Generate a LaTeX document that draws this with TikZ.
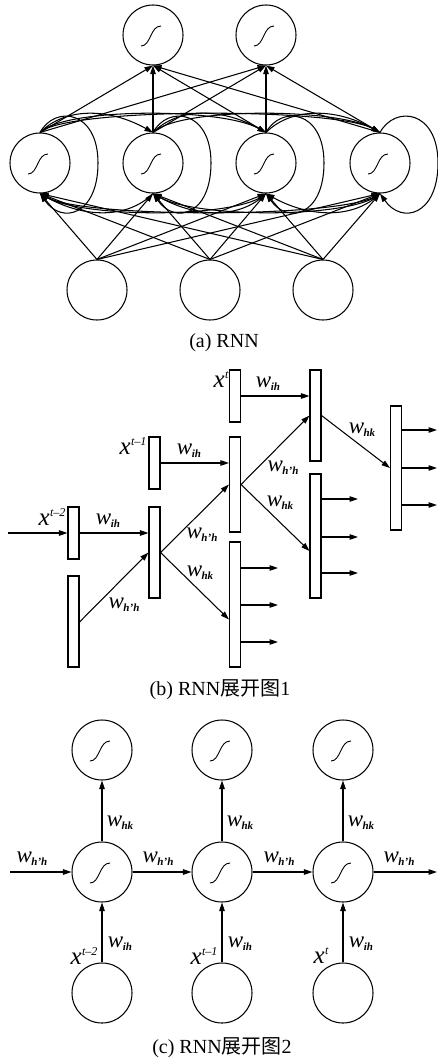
\documentclass[tikz,border=0pt]{standalone}
\usepackage{fontspec}
\setmainfont{Liberation Serif}
\newfontfamily\cjk{Noto Sans CJK SC}
\usetikzlibrary{arrows.meta,calc}
\newcommand{\wlab}[1]{{\fontsize{23}{24}\selectfont\itshape w}\kern-0.5pt\raisebox{-3pt}{\fontsize{11}{11}\selectfont\bfseries\itshape #1}}
\newcommand{\xlab}[1]{{\fontsize{25}{25}\selectfont\itshape x}\kern0.5pt\raisebox{9pt}{\fontsize{12}{12}\selectfont\itshape #1}}
\newcommand{\capfont}{\fontsize{20}{22}\selectfont}
\begin{document}
\begin{tikzpicture}[x=1pt,y=-1pt,
  line width=1.05pt,
  circ/.style={draw, circle, minimum size=60pt, inner sep=0pt},
  bar/.style={draw, rectangle, minimum width=11pt, inner sep=0pt},
  arr/.style={-{Triangle[length=8.5pt,width=5.5pt]}},
  lab/.style={inner sep=0pt},
  sig/.pic={\draw[line width=0.9pt] (-12,11) .. controls (-2,11) and (-3,-9) .. (8,-9);}
]
\useasboundingbox (0,0) rectangle (437,1062);
% ================= (a) =================
\node[circ] (o1) at (153,35) {};
\node[circ] (o2) at (266,35) {};
\node[circ] (h1) at (40,163) {};
\node[circ] (h2) at (153,163) {};
\node[circ] (h3) at (266,163) {};
\node[circ] (h4) at (380,163) {};
\node[circ] (i1) at (97,290) {};
\node[circ] (i2) at (210,290) {};
\node[circ] (i3) at (323,290) {};
\foreach \n in {o1,o2,h1,h2,h3,h4} \pic at (\n) {sig};
% inputs to hidden
\foreach \i in {i1,i2,i3}
  \foreach \h in {h1,h2,h3,h4}
    \draw[arr] (\i.north) -- (\h.south);
% hidden to outputs
\foreach \h in {h1,h2,h3,h4}
  \foreach \o in {o1,o2}
    \draw[arr] (\h.north) -- (\o.south);
% self loops
\foreach \h in {h1,h2,h3,h4}
  \draw[arr] (\h.north) .. controls ($(\h)+(15,-58)$) and ($(\h)+(58,-53)$) .. ($(\h)+(58,0)$)
     .. controls ($(\h)+(58,52)$) and ($(\h)+(22,62)$) .. (\h.south);
% forward recurrent arcs (top)
\foreach \a/\b in {h1/h2,h1/h3,h1/h4,h2/h3,h2/h4,h3/h4}
  \draw[arr] (\a.north) .. controls +(25,-25) and +(-45,-25) .. (\b.north);
% backward recurrent arcs (bottom)
\foreach \a/\b in {h2/h1,h3/h1,h4/h1,h3/h2,h4/h2,h4/h3}
  \draw[arr] (\a.south) .. controls +(-25,25) and +(45,25) .. (\b.south);
\node[lab] (capa) at (224,343) {\capfont (a) RNN};
% ================= (b) =================
\node[bar, minimum height=52pt] (xa) at (73.5,533) {};
\node[bar, minimum height=91pt] (hz) at (73.5,621.5) {};
\node[bar, minimum height=52pt] (xb) at (154.5,463) {};
\node[bar, minimum height=91pt] (ha) at (154.5,552.5) {};
\node[bar, minimum height=52pt] (xc) at (235,396) {};
\node[bar, minimum height=95pt] (hb) at (235,484.5) {};
\node[bar, minimum height=125pt] (ya) at (235,604.5) {};
\node[bar, minimum height=91pt] (hc) at (315.5,415.5) {};
\node[bar, minimum height=124pt] (yb) at (315.5,536) {};
\node[bar, minimum height=124pt] (yc) at (396,468) {};
\coordinate (inb) at (8,533);
\draw[arr] (inb) -- (xa.west);
\draw[arr] (xa.east) -- (xa.east -| ha.west);
\draw[arr] ($(hz.east)+(0,0.5)$) -- (ha.west);
\draw[arr] (xb.east) -- (xb.east -| hb.west);
\draw[arr] (ha.east) -- (hb.west);
\draw[arr] (ha.east) -- ($(ya.west)+(0,15)$);
\draw[arr] (xc.east) -- (xc.east -| hc.west);
\draw[arr] (hb.east) -- (hc.west);
\draw[arr] (hb.east) -- ($(yb.west)+(0,15)$);
\draw[arr] (hc.east) -- (yc.west);
% outputs
\foreach \y [count=\k] in {568,605,642} {
  \coordinate (ea\k) at (278,\y);
  \draw[arr] (ea\k -| ya.east) -- (ea\k);
}
\foreach \y [count=\k] in {499,537,573} {
  \coordinate (eb\k) at (358,\y);
  \draw[arr] (eb\k -| yb.east) -- (eb\k);
}
\foreach \y [count=\k] in {430,468,505} {
  \coordinate (ec\k) at (437,\y);
  \draw[arr] (ec\k -| yc.east) -- (ec\k);
}
\node[lab] (lb1) at (108,521) {\wlab{ih}};
\node[lab] (lb2) at (124,605) {\wlab{h’h}};
\node[lab] (lb3) at (189,451) {\wlab{ih}};
\node[lab] (lb4) at (202,535) {\wlab{h’h}};
\node[lab] (lb5) at (200,573) {\wlab{hk}};
\node[lab] (lb6) at (268,384) {\wlab{ih}};
\node[lab] (lb7) at (283,468) {\wlab{h’h}};
\node[lab] (lb8) at (280,503) {\wlab{hk}};
\node[lab] (lb9) at (362,430) {\wlab{hk}};
\node[lab] (xl1) at (52,517) {\xlab{t–2}};
\node[lab] (xl2) at (133,446) {\xlab{t–1}};
\node[lab] (xl3) at (221,380) {\xlab{t}};
\node[lab] (capb) at (220,690) {\capfont (b) RNN{\cjk 展开图}1};
% ================= (c) =================
\foreach \x [count=\k] in {102,222,343} {
  \node[circ] (t\k) at (\x,750) {};
  \node[circ] (m\k) at (\x,872) {};
  \node[circ] (b\k) at (\x,993) {};
  \pic at (t\k) {sig};
  \pic at (m\k) {sig};
  \draw[arr] (m\k.north) -- (t\k.south);
  \draw[arr] (b\k.north) -- (m\k.south);
  \node[lab] (whk\k) at (\x+18,823) {\wlab{hk}};
  \node[lab] (wih\k) at (\x+18,944) {\wlab{ih}};
}
\coordinate (inc) at (10,872);
\coordinate (outc) at (437,872);
\draw[arr] (inc) -- (m1.west);
\draw[arr] (m1.east) -- (m2.west);
\draw[arr] (m2.east) -- (m3.west);
\draw[arr] (m3.east) -- (outc);
\node[lab] (wr1) at (32,859) {\wlab{h’h}};
\node[lab] (wr2) at (158,859) {\wlab{h’h}};
\node[lab] (wr3) at (279,859) {\wlab{h’h}};
\node[lab] (wr4) at (399,859) {\wlab{h’h}};
\node[lab] (xc1) at (84,956) {\xlab{t–2}};
\node[lab] (xc2) at (204,956) {\xlab{t–1}};
\node[lab] (xc3) at (321,956) {\xlab{t}};
\node[lab] (capc) at (222,1048) {\capfont (c) RNN{\cjk 展开图}2};
\end{tikzpicture}
\end{document}
